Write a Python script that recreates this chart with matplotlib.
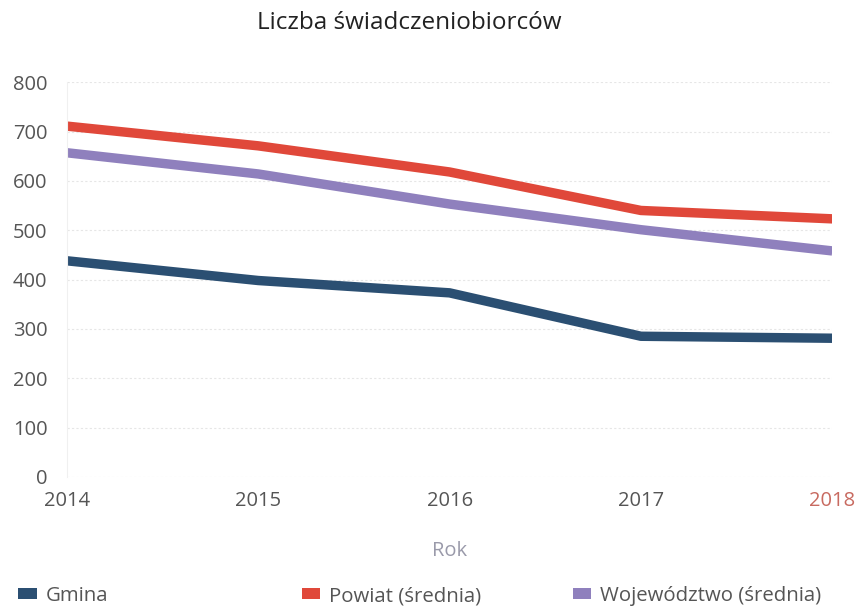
import matplotlib
matplotlib.use("Agg")
import matplotlib.pyplot as plt
from matplotlib.patches import Patch

plt.rcParams['font.family'] = ['Open Sans', 'DejaVu Sans']

years = [2014, 2015, 2016, 2017, 2018]
gmina = [438, 398, 373, 285, 281]
powiat = [711, 671, 618, 540, 523]
wojewodztwo = [657, 614, 553, 501, 458]
series_names = ["Gmina", "Powiat (średnia)", "Województwo (średnia)"]
colors = ["#2b4f72", "#e0483a", "#8f80bd"]
yticks = [0, 100, 200, 300, 400, 500, 600, 700, 800]

fig = plt.figure(figsize=(8.58, 6.09), dpi=100)
ax = fig.add_axes([0.078, 0.217, 0.892, 0.648])

for vals, c in zip([gmina, powiat, wojewodztwo], colors):
    ax.plot(years, vals, color=c, lw=6.8, solid_capstyle='butt', solid_joinstyle='round')

ax.set_xlim(2014, 2018)
ax.set_ylim(0, 800)
ax.set_yticks(yticks)
ax.set_xticks(years)
ax.set_xticklabels([str(y) for y in years])
ax.grid(axis='y', color='#e6e6e6', lw=0.8, linestyle=(0, (2, 2)))
ax.set_axisbelow(True)
for s in ['top', 'right', 'bottom']:
    ax.spines[s].set_visible(False)
ax.spines['left'].set_color('#f0f0f0')
ax.tick_params(axis='both', length=0, labelsize=14.5, colors='#555555')
ax.tick_params(axis='y', pad=14)
ax.tick_params(axis='x', pad=10)
xl = ax.get_xticklabels()
xl[-1].set_color('#c86a60')
ax.set_xlabel("Rok", fontsize=14.5, color='#9a9aaa', labelpad=22)

fig.text(0.477, 0.962, "Liczba świadczeniobiorców", ha='center', va='center',
         fontsize=17.5, color='#222222')

xs = [0.0, 0.33, 0.646]
for name, c, x in zip(series_names, colors, xs):
    fig.legend(handles=[Patch(facecolor=c, edgecolor='none')], labels=[name],
               loc='center left', bbox_to_anchor=(x, 0.021), frameon=False,
               fontsize=14.7, handlelength=0.9, handleheight=0.45, handletextpad=0.45,
               labelcolor='#555555')

fig.savefig("out.png", dpi=100, facecolor='white')
